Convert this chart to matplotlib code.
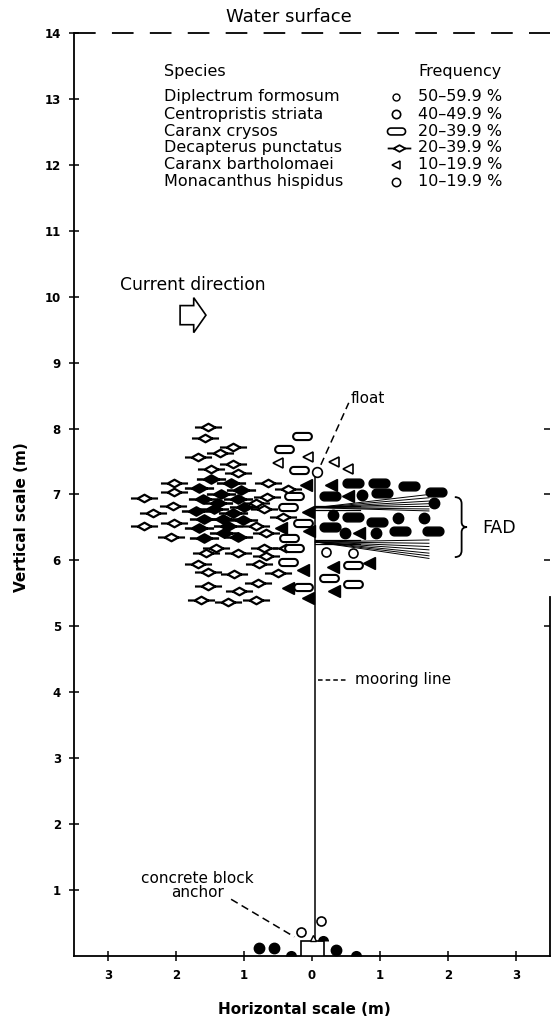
import numpy as np
import matplotlib
matplotlib.use("Agg")
from matplotlib import pyplot as plt
from matplotlib.path import Path
from matplotlib.patches import PathPatch, Rectangle, FancyArrow

plt.rcParams['font.family'] = ['DejaVu Sans']

# positions of fish in metres (x from mooring, y above bottom)
decap_open_x = [-1.53, -1.57, -1.16, -1.35, -1.68, -1.16, -1.49, -1.09, -2.03, -0.65,
                -0.35, -2.03, -2.47, -0.66, -0.82, -2.04, -0.71, -2.34, -0.43, -2.03,
                -2.47, -0.82, -0.68, -2.07, -1.41, -0.71, -0.38, -1.56, -1.09, -0.68,
                -1.68, -0.78, -1.53, -1.15, -0.50, -0.79, -1.53, -1.07, -1.63, -1.24, -0.82]
decap_open_y = [8.02, 7.86, 7.72, 7.63, 7.57, 7.46, 7.39, 7.33, 7.17, 7.17,
                7.08, 7.04, 6.95, 6.96, 6.87, 6.83, 6.78, 6.72, 6.66, 6.57,
                6.52, 6.52, 6.42, 6.36, 6.19, 6.19, 6.19, 6.11, 6.11, 6.07,
                5.95, 5.95, 5.82, 5.79, 5.81, 5.66, 5.61, 5.54, 5.40, 5.37, 5.40]
decap_fill_x = [-1.49, -1.19, -1.66, -1.04, -1.34, -1.60, -1.09, -1.38, -1.71, -1.44,
                -1.00, -1.16, -1.59, -1.31, -1.01, -1.66, -1.24, -1.29, -1.09, -1.59]
decap_fill_y = [7.23, 7.17, 7.10, 7.07, 7.01, 6.93, 6.93, 6.87, 6.75, 6.78,
                6.81, 6.72, 6.63, 6.63, 6.61, 6.49, 6.52, 6.42, 6.36, 6.34]

crysos_open_x = [-0.15, -0.41, -0.19, -0.26, -0.35, -0.13, -0.34, -0.26, -0.35, -0.13, 0.25, 0.60, 0.60]
crysos_open_y = [7.89, 7.69, 7.37, 6.98, 6.81, 6.57, 6.34, 6.19, 5.98, 5.60, 5.73, 5.93, 5.64]
crysos_fill_x = [0.60, 0.99, 1.43, 1.82, 0.26, 1.03, 0.60, 0.96, 0.26, 1.29, 1.78]
crysos_fill_y = [7.17, 7.17, 7.13, 7.04, 6.98, 7.02, 6.66, 6.58, 6.51, 6.45, 6.45]

barth_open_x = [-0.06, -0.50, 0.33, 0.53]
barth_open_y = [7.57, 7.48, 7.50, 7.39]
barth_fill_x = [-0.09, -0.06, -0.46, -0.04, -0.13, -0.35, -0.06, 0.28, 0.53, 0.69, 0.31, 0.84, 0.33]
barth_fill_y = [7.14, 6.73, 6.49, 6.45, 5.85, 5.58, 5.43, 7.14, 6.98, 6.42, 5.90, 5.96, 5.54]

circ_fill_x = [0.74, 1.79, 0.31, 1.26, 1.65, 0.49, 0.94]
circ_fill_y = [6.99, 6.87, 6.69, 6.64, 6.64, 6.42, 6.42]
circ_open_x = [0.21, 0.60]
circ_open_y = [6.13, 6.11]

# near the anchor
bot_fill_x = [-0.78, -0.56, 0.35]
bot_fill_y = [0.12, 0.12, 0.09]
bot_dome_x = [-0.31, 0.65, 0.16]
bot_dome_y = [0.0, 0.0, 0.23]
bot_open_x = [-0.16, 0.13]
bot_open_y = [0.36, 0.53]

# FAD streamers: end heights at x = 1.72
fad_top_ends = [7.00, 6.95, 6.90, 6.86, 6.82, 6.78, 6.75]
fad_bot_ends = [6.31, 6.26, 6.21, 6.16, 6.11, 6.07, 6.03]

species = ["Diplectrum formosum", "Centropristis striata", "Caranx crysos",
           "Decapterus punctatus", "Caranx bartholomaei", "Monacanthus hispidus"]
freqs = ["50\u201359.9 %", "40\u201349.9 %", "20\u201339.9 %",
         "20\u201339.9 %", "10\u201319.9 %", "10\u201319.9 %"]
legend_y = [13.03, 12.77, 12.51, 12.26, 12.00, 11.74]


def fish_marker():
    v = [(-1, 0), (-0.5, 0), (0, 0.28), (0.5, 0), (0, -0.28), (-0.5, 0),
         (0.5, 0), (1, 0)]
    c = [Path.MOVETO, Path.LINETO, Path.LINETO, Path.LINETO, Path.LINETO, Path.LINETO,
         Path.MOVETO, Path.LINETO]
    return Path(v, c)


def bar_marker(r):
    t = np.linspace(-np.pi / 2, np.pi / 2, 15)
    right = np.column_stack([1 - r + r * np.cos(t), r * np.sin(t)])
    left = np.column_stack([-(1 - r) - r * np.cos(t), -r * np.sin(t)])
    v = np.vstack([right, left, right[:1]])
    return Path(v, closed=True)


fish = fish_marker()
bar_o = bar_marker(0.38)
bar_f = bar_marker(0.42)

fig = plt.figure(figsize=(5.54, 10.21), dpi=100)
ax = fig.add_axes([0.1336, 0.0637, 0.8592, 0.9040])
ax.set_xlim(-3.5, 3.5)
ax.set_ylim(0, 14)

for s in ['top', 'right']:
    ax.spines[s].set_visible(False)
for s in ['left', 'bottom']:
    ax.spines[s].set_linewidth(1.3)

ax.set_yticks(range(1, 15))
ax.set_yticklabels([str(i) for i in range(1, 15)])
ax.set_xticks(range(-3, 4))
ax.set_xticklabels([str(abs(i)) for i in range(-3, 4)])
ax.tick_params(direction='inout', length=7, width=1.1, labelsize=8.5, pad=6)
for lab in ax.get_xticklabels() + ax.get_yticklabels():
    lab.set_fontweight('bold')

sec = ax.secondary_yaxis('right')
sec.set_yticks(range(5, 9))
sec.tick_params(direction='in', length=4, width=1.1, labelright=False)
sec.spines['right'].set_bounds(0, 5.45)
sec.spines['right'].set_linewidth(1.3)

# water surface
ax.axhline(14, color='black', lw=1.3, ls=(0, (12, 9)), clip_on=False)
ax.text(-0.34, 14.1, "Water surface", ha='center', va='bottom', fontsize=13)

# legend
ax.text(-2.18, 13.41, "Species", fontsize=11.5, va='center')
ax.text(1.56, 13.41, "Frequency", fontsize=11.5, va='center')
for name, fq, yy in zip(species, freqs, legend_y):
    ax.text(-2.18, yy, name, fontsize=11.5, va='center')
    ax.text(1.56, yy, fq, fontsize=11.5, va='center')
leg_x = 1.24
ax.plot(leg_x, legend_y[0], 'o', ms=5, mfc='white', mec='black', mew=1.0)
ax.plot(leg_x, legend_y[1], 'o', ms=6, mfc='white', mec='black', mew=1.2)
ax.plot(leg_x, legend_y[2], marker=bar_o, ms=13, mfc='white', mec='black', mew=1.2)
ax.plot(leg_x + 0.04, legend_y[3], marker=fish, ms=17, mfc='white', mec='black', mew=1.3)
ax.plot(leg_x, legend_y[4], '<', ms=6, mfc='white', mec='black', mew=1.1)
ax.plot(leg_x, legend_y[5], 'o', ms=6, mfc='white', mec='black', mew=1.1)

# current direction
ax.text(-2.83, 10.18, "Current direction", fontsize=12.3, va='center')
ax.add_patch(FancyArrow(-1.94, 9.72, 0.38, 0, width=0.29, head_width=0.53,
                        head_length=0.18, length_includes_head=True,
                        fc='white', ec='black', lw=1.2))

# mooring line, float, anchor
ax.plot([0.04, 0.04], [0.23, 7.28], color='black', lw=1.1, zorder=2)
ax.plot(0.07, 7.34, 'o', ms=7, mfc='white', mec='black', mew=1.2, zorder=4)
ax.add_patch(Rectangle((-0.16, 0), 0.34, 0.23, fc='white', ec='black', lw=1.2, zorder=3))
ax.plot(0.02, 0.27, '^', ms=5, mfc='white', mec='black', mew=1.0, zorder=4)

# FAD streamers
for ends, y0 in [(fad_top_ends, 6.80), (fad_bot_ends, 6.28)]:
    for ye in ends:
        ax.plot([0.05, 1.72], [y0, ye], color='black', lw=0.7, zorder=2)
    ax.plot([0.05, 0.7], [y0 + 0.03, y0 + 0.03], color='black', lw=0.9, zorder=2)
    ax.plot([0.05, 0.7], [y0 - 0.03, y0 - 0.03], color='black', lw=0.9, zorder=2)

# brace
bv = [(2.10, 6.96), (2.20, 6.96), (2.20, 6.86), (2.20, 6.58), (2.20, 6.505), (2.28, 6.505),
      (2.20, 6.505), (2.20, 6.43), (2.20, 6.15), (2.20, 6.05), (2.10, 6.05)]
bc = [Path.MOVETO, Path.CURVE3, Path.CURVE3, Path.LINETO, Path.CURVE3, Path.CURVE3,
      Path.CURVE3, Path.CURVE3, Path.LINETO, Path.CURVE3, Path.CURVE3]
ax.add_patch(PathPatch(Path(bv, bc), fill=False, lw=1.3, ec='black'))
ax.text(2.51, 6.49, "FAD", fontsize=12.5, va='center')

# fish
ax.plot(decap_open_x, decap_open_y, ls='none', marker=fish, ms=19.5, mfc='white',
        mec='black', mew=1.6, zorder=3)
ax.plot(decap_fill_x, decap_fill_y, ls='none', marker=fish, ms=21, mfc='black',
        mec='black', mew=1.8, zorder=3)
ax.plot(crysos_open_x, crysos_open_y, ls='none', marker=bar_o, ms=13.5, mfc='white',
        mec='black', mew=1.5, zorder=4)
ax.plot(crysos_fill_x, crysos_fill_y, ls='none', marker=bar_f, ms=15, mfc='black',
        mec='black', mew=1.0, zorder=4)
ax.plot(barth_open_x, barth_open_y, ls='none', marker='<', ms=7, mfc='white',
        mec='black', mew=1.2, zorder=4)
ax.plot(barth_fill_x, barth_fill_y, ls='none', marker='<', ms=8, mfc='black',
        mec='black', mew=1.0, zorder=4)
ax.plot(circ_fill_x, circ_fill_y, ls='none', marker='o', ms=7.5, mfc='black',
        mec='black', zorder=4)
ax.plot(circ_open_x, circ_open_y, ls='none', marker='o', ms=6.5, mfc='white',
        mec='black', mew=1.2, zorder=4)
ax.plot(bot_fill_x, bot_fill_y, ls='none', marker='o', ms=7.5, mfc='black',
        mec='black', zorder=4, clip_on=False)
ax.plot(bot_dome_x, bot_dome_y, ls='none', marker='o', ms=8, fillstyle='top',
        mfc='black', mfcalt='none', mew=0, zorder=4, clip_on=False)
ax.plot(bot_open_x, bot_open_y, ls='none', marker='o', ms=6.5, mfc='white',
        mec='black', mew=1.2, zorder=4)

# annotations
ax.plot([0.13, 0.54], [7.45, 8.39], color='black', lw=1.1, ls=(0, (5, 3)))
ax.text(0.57, 8.46, "float", fontsize=11, va='center')
ax.plot([0.09, 0.53], [4.19, 4.19], color='black', lw=1.1, ls=(0, (3, 2)))
ax.text(0.63, 4.19, "mooring line", fontsize=11, va='center')
ax.plot([-1.19, -0.26], [0.86, 0.29], color='black', lw=1.1, ls=(0, (5, 3)))
ax.text(-1.69, 1.07, "concrete block\nanchor", fontsize=11, ha='center',
        va='center', linespacing=0.95)

fig.text(0.039, 0.494, "Vertical scale (m)", rotation=90, ha='center', va='center',
         fontsize=11, fontweight='bold')
fig.text(0.55, 0.011, "Horizontal scale (m)", ha='center', va='center',
         fontsize=11, fontweight='bold')

fig.savefig("out.png", dpi=100)
